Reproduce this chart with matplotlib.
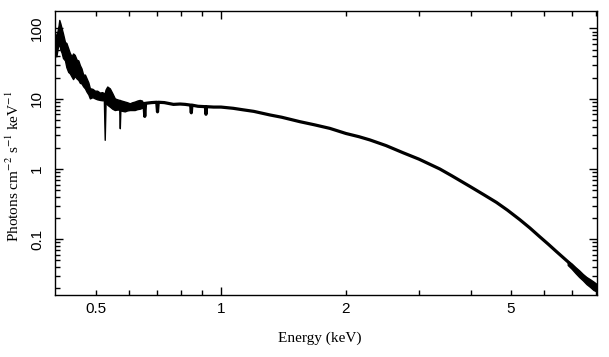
import numpy as np
import matplotlib
matplotlib.use("Agg")
import matplotlib.pyplot as plt
from matplotlib.ticker import LogLocator, NullFormatter

plt.rcParams["font.family"] = ["Liberation Serif", "DejaVu Serif"]
plt.rcParams["mathtext.fontset"] = "stix"

# noisy low energy part of the spectrum (upper / lower edge of the data band)
band_energy = [0.398, 0.401, 0.404, 0.406, 0.4076, 0.410, 0.413, 0.416, 0.4207, 0.424,
               0.4284, 0.432, 0.4365, 0.440, 0.444, 0.4487, 0.453, 0.457, 0.461, 0.4654,
               0.470, 0.4742, 0.479, 0.483, 0.490, 0.4966, 0.503, 0.5106, 0.517, 0.522,
               0.5245, 0.527, 0.532, 0.5396, 0.547, 0.5547, 0.562, 0.5685, 0.5703, 0.572,
               0.579, 0.5862, 0.594, 0.6027, 0.611, 0.6195, 0.628, 0.6369, 0.645]
band_hi = [86, 72, 95, 110, 132, 118, 100, 85, 64, 62,
           52, 45, 40, 44, 42, 36, 35, 30, 27, 22,
           22, 19.5, 17, 14.1, 13.8, 13.0, 13.0, 12.2, 12.4, 12.0,
           12.0, 13.5, 14.9, 14.0, 12.0, 10.1, 9.8, 9.6, 9.6, 9.5,
           9.3, 9.1, 8.9, 8.6, 8.9, 9.1, 9.4, 9.6, 9.4]
band_lo = [45, 40, 52, 58, 62, 50, 45, 38, 35, 28,
           24, 23, 20.6, 19, 21, 19.4, 18.5, 16.8, 16.5, 15.0,
           14, 12.6, 11.5, 10.1, 10.5, 10.1, 9.8, 9.6, 9.5, 9.5,
           2.6, 9.0, 8.2, 7.7, 7.2, 6.9, 7.0, 7.0, 3.8, 6.8,
           6.7, 6.6, 6.8, 6.9, 6.9, 6.9, 7.1, 7.2, 7.4]

# continuum (photons cm-2 s-1 keV-1)
energy = [0.62, 0.64, 0.652, 0.655, 0.658, 0.68, 0.70, 0.703, 0.706, 0.73,
          0.768, 0.797, 0.82, 0.845, 0.848, 0.851, 0.88, 0.917, 0.92, 0.923,
          0.96, 1.0, 1.07, 1.13, 1.2, 1.312, 1.4, 1.549, 1.68, 1.83,
          2.0, 2.15, 2.285, 2.5, 2.748, 3.0, 3.368, 3.6, 3.98, 4.3,
          4.61, 4.9, 5.25, 5.55, 5.86, 6.15, 6.43, 6.92, 7.31, 7.73,
          7.99, 8.05]
flux = [8.2, 8.5, 8.6, 5.6, 8.6, 8.8, 8.9, 6.5, 8.9, 8.8,
        8.3, 8.4, 8.3, 8.1, 6.3, 8.1, 7.8, 7.7, 6.0, 7.7,
        7.6, 7.6, 7.3, 6.95, 6.6, 5.87, 5.45, 4.71, 4.25, 3.78,
        3.2, 2.88, 2.59, 2.15, 1.70, 1.38, 1.0, 0.80, 0.565, 0.43,
        0.335, 0.26, 0.19, 0.145, 0.109, 0.085, 0.067, 0.0456, 0.0328, 0.0249,
        0.0219, 0.021]

# noisier high energy end
end_energy = [6.85, 7.0, 7.15, 7.3, 7.45, 7.6, 7.75, 7.9, 8.05]
end_hi = [0.049, 0.045, 0.040, 0.036, 0.032, 0.029, 0.027, 0.025, 0.023]
end_lo = [0.043, 0.038, 0.033, 0.029, 0.026, 0.023, 0.021, 0.019, 0.018]

fig = plt.figure(figsize=(6.09, 3.57), dpi=100)
ax = fig.add_axes([0.0903, 0.1737, 0.8897, 0.7955])

ax.fill_between(band_energy, band_lo, band_hi, color="black", lw=1.0)
ax.fill_between(end_energy, end_lo, end_hi, color="black", lw=1.0)
ax.plot(energy, flux, color="black", lw=2.3)

ax.set_xscale("log")
ax.set_yscale("log")
ax.set_xlim(0.398, 8.05)

# x ticks: one long tick at 1 keV, short ones elsewhere
ax.set_xticks([1])
ax.set_xticklabels(["1"])
minor_x = [0.5, 0.6, 0.7, 0.8, 0.9, 2, 3, 4, 5, 6, 7, 8]
ax.set_xticks(minor_x, minor=True)
ax.set_xticklabels(["0.5", "", "", "", "", "2", "", "", "5", "", "", ""], minor=True)

ax.set_yticks([0.1, 1, 10, 100])
ax.set_yticklabels(["0.1", "1", "10", "100"])
ax.yaxis.set_minor_locator(LogLocator(base=10, subs=np.arange(2, 10), numticks=20))
ax.yaxis.set_minor_formatter(NullFormatter())
ax.set_ylim(0.0161, 177)

ax.tick_params(which="both", direction="in", top=True, right=True, width=1.0)
ax.tick_params(which="major", length=5.8)
ax.tick_params(which="minor", length=3.4)
ax.tick_params(axis="x", which="both", pad=5, labelsize=11)
ax.tick_params(axis="y", which="both", pad=8, labelsize=11)
for lab in ax.get_xticklabels(which="both"):
    lab.set_family(["Liberation Sans", "DejaVu Sans"])
for lab in ax.get_yticklabels():
    lab.set_family(["Liberation Sans", "DejaVu Sans"])
    lab.set_rotation(90)
    lab.set_va("center")

for sp in ax.spines.values():
    sp.set_linewidth(1.0)

ax.set_xlabel("Energy (keV)", fontsize=11)
ax.set_ylabel("Photons cm$^{-2}$ s$^{-1}$ keV$^{-1}$", fontsize=11)
ax.xaxis.set_label_coords(0.488, -0.127)
ax.yaxis.set_label_coords(-0.061, 0.454)

fig.savefig("out.png", dpi=100)
